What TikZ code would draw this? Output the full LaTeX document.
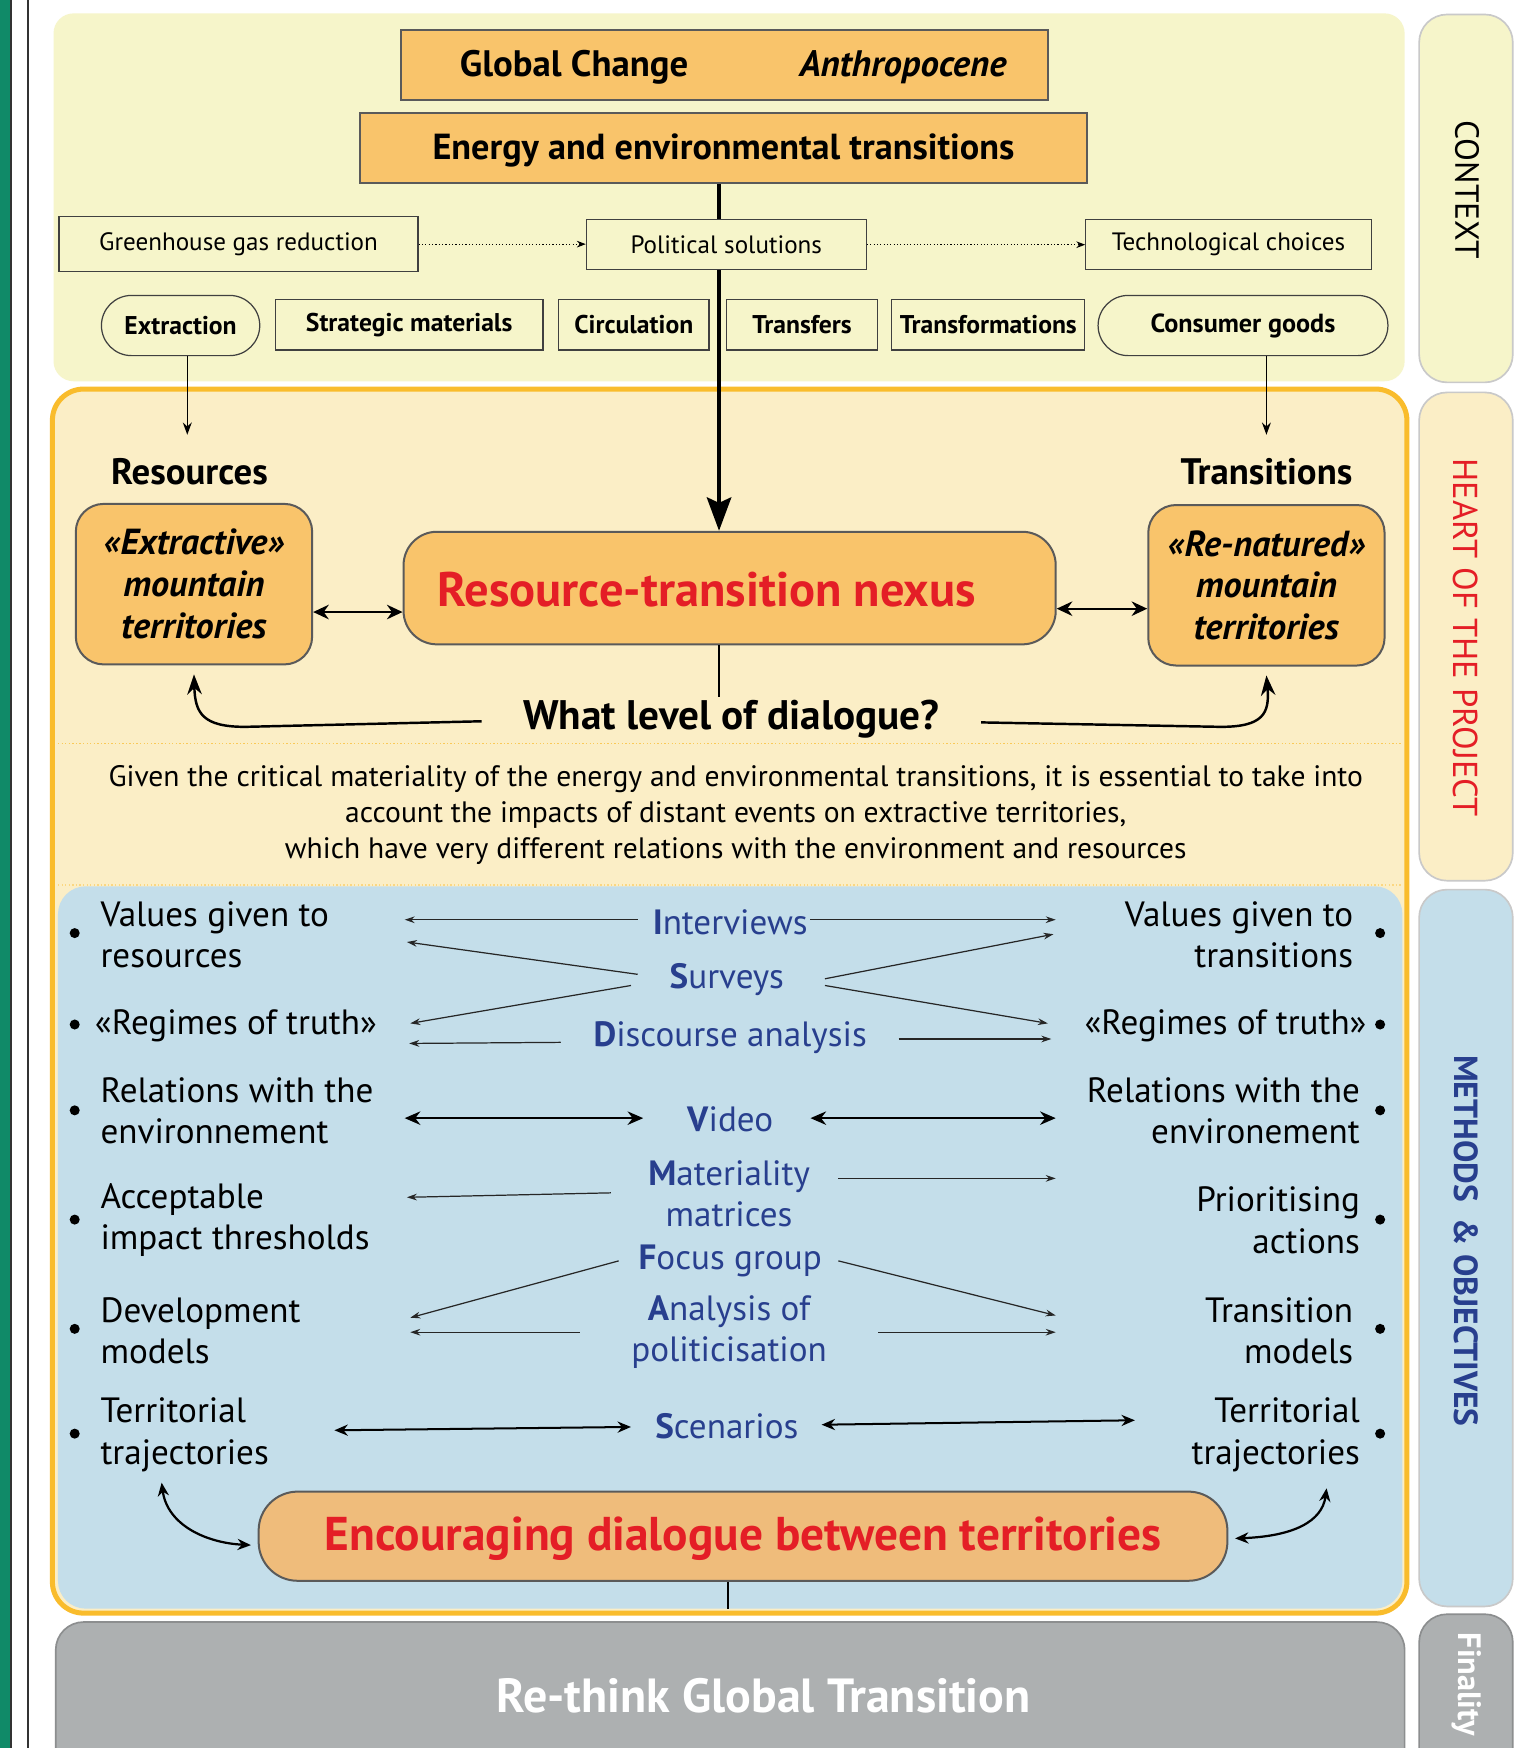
\documentclass[tikz,border=0pt]{standalone}
\usepackage{fontspec}
\setmainfont{PT Sans}
\usetikzlibrary{arrows.meta,calc}
\definecolor{ctxbg}{HTML}{F6F5CA}
\definecolor{heartbg}{HTML}{FBEEC6}
\definecolor{methbg}{HTML}{C4DEEA}
\definecolor{gold}{HTML}{F9BC2C}
\definecolor{orbox}{HTML}{F9C46B}
\definecolor{encbox}{HTML}{EFBC7B}
\definecolor{redt}{HTML}{E41E26}
\definecolor{navy}{HTML}{283F8E}
\definecolor{grayf}{HTML}{ADB0B1}
\definecolor{grayb}{HTML}{8C8E8F}
\definecolor{greenbar}{HTML}{108A68}
\definecolor{boxline}{HTML}{5A5A5A}
\definecolor{tabline}{HTML}{C9C9C9}
\newcommand\fsz[2]{\fontsize{#1}{#2}\selectfont}
\tikzset{
  obox/.style={draw=boxline, fill=orbox, line width=1.8, inner sep=0pt},
  tbox/.style={draw=black!75, line width=1.1, inner sep=0pt},
  lcol/.style={font=\fsz{31.5}{37}, align=left, anchor=west, inner sep=0pt},
  rcol/.style={font=\fsz{31.5}{37}, align=right, anchor=east, inner sep=0pt},
  meth/.style={font=\fsz{31.5}{37}, text=navy, align=center, inner sep=0pt},
  bul/.style={circle, fill=black, minimum size=9pt, inner sep=0pt},
  dotarr/.style={dotted, line width=1, -{Stealth[length=8pt,width=6pt]}},
  smallarr/.style={line width=1.3, -{Stealth[length=11pt,width=8pt]}},
  bigarr/.style={line width=3, -{Stealth[length=30pt,width=22pt,inset=5pt]}},
  dblarr/.style={line width=2, {Stealth[length=14pt,width=13pt]}-{Stealth[length=14pt,width=13pt]}},
  curvarr/.style={line width=2.2, -{Stealth[length=18pt,width=13pt]}},
  marr/.style={line width=1.1, black!85, -{Stealth[length=9pt,width=6pt]}},
  vidarr/.style={line width=2.3, {Stealth[length=14pt,width=12pt]}-{Stealth[length=14pt,width=12pt]}},
  scenarr/.style={line width=1.8, {Stealth[length=12pt,width=10pt]}-{Stealth[length=12pt,width=10pt]}},
  tab/.style={draw=tabline, line width=1.5, rounded corners=25},
}
\begin{document}
\begin{tikzpicture}[x=1pt,y=-1pt]
\fill[white] (0,0) rectangle (1377,1568);
\useasboundingbox (0,0) rectangle (1377,1568);
% left bars
\fill[greenbar] (0,0) rectangle (10,1568);
\draw[line width=1.2, black!80] (10,0) -- (10,1568);
\draw[line width=2, black!80] (25,0) -- (25,1568);
% regions
\fill[ctxbg, rounded corners=18] (48,12) rectangle (1260,342);
\fill[heartbg, rounded corners=28] (47,349) rectangle (1262,1447);
\fill[methbg, rounded corners=25] (52,795) rectangle (1258,1443);
\draw[gold!80, dotted, line width=1.2] (52,667) -- (1258,667);
\draw[gold!60, dotted, line width=1.2] (52,794) -- (1258,794);
\draw[gold, line width=4.5, rounded corners=28] (47,349) rectangle (1262,1447);
\draw[grayb, fill=grayf, line width=1.5, rounded corners=25] (50,1455) rectangle (1260,1640);
% tabs
\draw[tab, fill=ctxbg] (1273,13) rectangle (1357,343);
\draw[tab, fill=heartbg] (1273,352) rectangle (1357,790);
\draw[tab, fill=methbg] (1273,798) rectangle (1357,1441);
\draw[tab, draw=grayb, fill=grayf] (1273,1448) rectangle (1357,1640);
\node[rotate=-90, font=\fsz{30}{36}] (tctx) at (1316,170) {CONTEXT};
\node[rotate=-90, font=\fsz{31}{36}, text=redt] (theart) at (1315,572) {HEART OF THE PROJECT};
\node[rotate=-90, font=\fsz{30}{34}\bfseries, text=navy] (tmeth) at (1315,1113) {METHODS \ \& OBJECTIVES};
\node[rotate=-90, anchor=west, font=\fsz{29}{34}\bfseries, text=white] (tfin) at (1316,1461) {Finality};

% context
\node[obox, minimum width=580pt, minimum height=63pt] (gc) at (650,58.5) {};
\node[font=\fsz{33}{38}\bfseries] (gct) at (515,60) {Global Change};
\node[font=\fsz{33}{38}\bfseries\itshape] (anth) at (810,60) {Anthropocene};
\node[obox, minimum width=652pt, minimum height=63pt] (energy) at (649,132.5) {};
\node[font=\fsz{32.5}{38}\bfseries] (energyt) at (649,135) {Energy and environmental transitions};
\node[tbox, minimum width=322pt, minimum height=49pt, font=\fsz{22.5}{26}] (ghg) at (214,219) {Greenhouse gas reduction};
\node[tbox, minimum width=251pt, minimum height=45pt, font=\fsz{22.5}{26}] (pol) at (651.5,219.5) {Political solutions};
\node[tbox, minimum width=256pt, minimum height=45pt, font=\fsz{22.5}{26}] (tech) at (1102,219.5) {Technological choices};
\draw[dotarr] (ghg.east) -- (ghg.east -| pol.west);
\draw[dotarr] (pol.east) -- (pol.east -| tech.west);
\node[tbox, rounded corners=27, minimum width=142pt, minimum height=54pt, font=\fsz{23}{27}\bfseries] (extr) at (162,292) {Extraction};
\node[tbox, minimum width=240pt, minimum height=45pt, font=\fsz{23}{27}\bfseries] (strat) at (367,291.5) {Strategic materials};
\node[tbox, minimum width=135pt, minimum height=45pt, font=\fsz{23}{27}\bfseries] (circ) at (568.5,291.5) {Circulation};
\node[tbox, minimum width=135pt, minimum height=45pt, font=\fsz{23}{27}\bfseries] (transf) at (719.5,291.5) {Transfers};
\node[tbox, minimum width=173pt, minimum height=45pt, font=\fsz{23}{27}\bfseries] (transfo) at (886.5,291.5) {Transformations};
\node[tbox, rounded corners=27, minimum width=260pt, minimum height=54pt, font=\fsz{23.5}{27}\bfseries] (cons) at (1115,292) {Consumer goods};

% heart
\node[font=\fsz{33}{38}\bfseries] (res) at (170,423) {Resources};
\node[font=\fsz{33}{38}\bfseries] (tra) at (1136,423) {Transitions};
\coordinate (vx) at (645,0);
\coordinate (ex) at (168,0);
\coordinate (cx) at (1136,0);
\draw[smallarr] (extr.south -| ex) -- (ex |- 0,390);
\draw[smallarr] (cons.south -| cx) -- (cx |- 0,390);
\node[obox, rounded corners=25, minimum width=212pt, minimum height=144pt, align=center, font=\fsz{32.5}{37.5}\bfseries\itshape] (extb) at (174,524) {«Extractive»\\mountain\\territories};
\node[obox, rounded corners=30, minimum width=585pt, minimum height=101pt] (nexus) at (654.5,527.5) {};
\node[font=\fsz{43.5}{50}\bfseries, text=redt] (nexust) at (634,529) {Resource-transition nexus};
\node[obox, rounded corners=25, minimum width=212pt, minimum height=144pt, align=center, font=\fsz{32.5}{37.5}\bfseries\itshape] (renb) at (1136,525) {«Re-natured»\\mountain\\territories};
\draw[line width=3] (energy.south -| vx) -- (pol.north -| vx);
\draw[bigarr] (pol.south -| vx) -- (nexus.north -| vx);
\draw[dblarr] ([yshift=-25pt]extb.east) -- ([yshift=-25pt]extb.east -| nexus.west);
\draw[dblarr] ([yshift=-21pt]renb.west) -- ([yshift=-21pt]renb.west -| nexus.east);
\draw[line width=1.5] (nexus.south -| vx) -- (vx |- 0,625);
\node[font=\fsz{37}{42}\bfseries] (wl) at (656,645) {What level of dialogue?};
\coordinate (wlL) at (432,647);
\coordinate (wlR) at (880,648);
\draw[curvarr] (wlL) -- (220,652) .. controls (182,652) and (175,640) .. ([yshift=-8pt]extb.south);
\draw[curvarr] (wlR) -- (1095,652) .. controls (1133,652) and (1139,640) .. ([yshift=-8pt]renb.south);
\node[font=\fsz{26.5}{32}, align=center] (para) at (660,731) {Given the critical materiality of the energy and environmental transitions, it is essential to take into\\account the impacts of distant events on extractive territories,\\which have very different relations with the environment and resources};

% methods: left column
\node[lcol] (l1) at (90,838.5) {Values given to\\resources};
\node[lcol] (l2) at (85,920) {«Regimes of truth»};
\node[lcol] (l3) at (90,996.5) {Relations with the\\environnement};
\node[lcol] (l4) at (90,1094.5) {Acceptable\\impact thresholds};
\node[lcol] (l5) at (90,1193.5) {Development\\models};
\node[lcol] (l6) at (90,1287) {Territorial\\trajectories};
\node[rcol] (r1) at (1214,838.5) {Values given to\\transitions};
\node[rcol] (r2) at (1226,920) {«Regimes of truth»};
\node[rcol] (r3) at (1220,996.5) {Relations with the\\environement};
\node[rcol] (r4) at (1220,1094.5) {Prioritising\\actions};
\node[rcol] (r5) at (1214,1193.5) {Transition\\models};
\node[rcol] (r6) at (1220,1287) {Territorial\\trajectories};
\foreach \y [count=\i] in {837,919,996,1094,1192,1286} {
  \node[bul] (bl\i) at (67,\y) {};
  \node[bul] (br\i) at (1238,\y) {};
}
% methods: centre
\node[meth] (m1) at (655,827) {\textbf{I}nterviews};
\node[meth] (m2) at (652,879) {\textbf{S}urveys};
\node[meth] (m3) at (655,931) {\textbf{D}iscourse analysis};
\node[meth] (m4) at (655,1004) {\textbf{V}ideo};
\node[meth] (m5) at (654,1070.5) {\textbf{M}ateriality\\matrices};
\node[meth] (m6) at (655,1131) {\textbf{F}ocus group};
\node[meth] (m7) at (654,1195) {\textbf{A}nalysis of\\politicisation};
\node[meth] (m8) at (652,1279) {\textbf{S}cenarios};
\draw[marr] (572,825) -- (363,825);
\draw[marr] (727,825) -- (947,825);
\draw[marr] (572,874) -- (365,845);
\draw[marr] (566,884) -- (368,918);
\draw[marr] (740,878) -- (945,838);
\draw[marr] (740,884) -- (940,918);
\draw[marr] (503,935) -- (367,936);
\draw[marr] (806,932) -- (943,932);
\draw[vidarr] (363,1003) -- (577,1003);
\draw[vidarr] (727,1003) -- (947,1003);
\draw[marr] (548,1070) -- (365,1074);
\draw[marr] (752,1057) -- (947,1057);
\draw[marr] (555,1131) -- (368,1182);
\draw[marr] (752,1131) -- (947,1180);
\draw[marr] (520,1195) -- (368,1195);
\draw[marr] (788,1195) -- (947,1195);
\draw[scenarr] (300,1283) -- (566,1280);
\draw[scenarr] (737,1278) -- (1018,1274);

% encouraging
\node[draw=boxline, fill=encbox, line width=1.8, rounded corners=35, minimum width=869pt, minimum height=80pt] (enc) at (666.5,1378) {};
\node[font=\fsz{42.5}{48}\bfseries, text=redt] (enct) at (666.5,1380) {Encouraging dialogue between territories};
\coordinate (lt) at (145,1330);
\coordinate (rt) at (1190,1335);
\draw[scenarr, line width=2] (lt) .. controls (150,1368) and (185,1384) .. ([xshift=-6pt,yshift=-8pt]enc.west);
\draw[scenarr, line width=2] ([xshift=6pt,yshift=-2pt]enc.east) .. controls (1160,1378) and (1186,1365) .. (rt);
\coordinate (bx) at (653,0);
\draw[line width=1.5] (enc.south -| bx) -- (bx |- 0,1443);

% finality
\node[font=\fsz{43}{48}\bfseries, text=white] (fin) at (685,1521) {Re-think Global Transition};
\end{tikzpicture}
\end{document}
